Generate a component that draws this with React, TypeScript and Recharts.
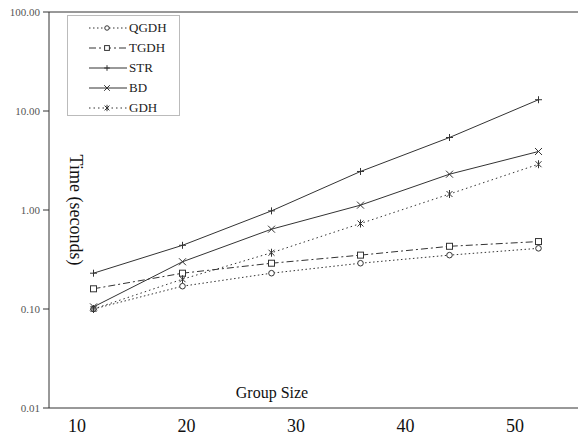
import React from "react";
import { Label, Line, LineChart, ReferenceLine, XAxis, YAxis } from "recharts";

// category slots along the x axis (6 measured group sizes)
const slots = [1, 2, 3, 4, 5, 6];
const groupSizeTicks = [10, 20, 30, 40, 50];
const timeTicks = [0.01, 0.1, 1, 10, 100];

const qgdh = [0.1, 0.17, 0.23, 0.29, 0.35, 0.41];
const tgdh = [0.16, 0.23, 0.29, 0.35, 0.43, 0.48];
const str = [0.23, 0.44, 0.98, 2.45, 5.4, 13.0];
const bd = [0.105, 0.3, 0.64, 1.12, 2.3, 3.9];
const gdh = [0.1, 0.2, 0.37, 0.73, 1.45, 2.9];

const data = slots.map((slot, i) => ({
  slot,
  QGDH: qgdh[i],
  TGDH: tgdh[i],
  STR: str[i],
  BD: bd[i],
  GDH: gdh[i],
}));

// the printed "Group Size" scale under the plot (no values, just anchors the axis)
const sizeRows = groupSizeTicks.map((size) => ({ size, none: null }));

const INK = "#333";
const FONT = '"Liberation Serif", "Times New Roman", serif';

type MarkerKind = "circle" | "square" | "plus" | "cross" | "star";

const series: { key: string; dash?: string; marker: MarkerKind }[] = [
  { key: "QGDH", dash: "1.5 2.5", marker: "circle" },
  { key: "TGDH", dash: "7 3 2 3", marker: "square" },
  { key: "STR", marker: "plus" },
  { key: "BD", marker: "cross" },
  { key: "GDH", dash: "1.5 3", marker: "star" },
];

function Marker({
  kind,
  cx,
  cy,
  s = 1,
}: {
  kind: MarkerKind;
  cx: number;
  cy: number;
  s?: number;
}) {
  if (cx == null || cy == null) return null;
  switch (kind) {
    case "circle":
      return <circle cx={cx} cy={cy} r={2.8 * s} fill="#fff" stroke={INK} />;
    case "square":
      return (
        <rect
          x={cx - 3 * s}
          y={cy - 3 * s}
          width={6 * s}
          height={6 * s}
          fill="#fff"
          stroke={INK}
        />
      );
    case "plus":
      return (
        <g stroke={INK}>
          <line x1={cx - 3.5 * s} x2={cx + 3.5 * s} y1={cy} y2={cy} />
          <line x1={cx} x2={cx} y1={cy - 3.5 * s} y2={cy + 3.5 * s} />
        </g>
      );
    case "cross":
      return (
        <g stroke={INK}>
          <line x1={cx - 3.5 * s} x2={cx + 3.5 * s} y1={cy - 3.5 * s} y2={cy + 3.5 * s} />
          <line x1={cx - 3.5 * s} x2={cx + 3.5 * s} y1={cy + 3.5 * s} y2={cy - 3.5 * s} />
        </g>
      );
    default:
      return (
        <g stroke={INK}>
          <line x1={cx - 3 * s} x2={cx + 3 * s} y1={cy - 3 * s} y2={cy + 3 * s} />
          <line x1={cx - 3 * s} x2={cx + 3 * s} y1={cy + 3 * s} y2={cy - 3 * s} />
          <line x1={cx} x2={cx} y1={cy - 4 * s} y2={cy + 4 * s} />
        </g>
      );
  }
}

function LegendBox() {
  return (
    <div
      style={{
        position: "absolute",
        left: 67,
        top: 15,
        width: 113,
        height: 101,
        boxSizing: "border-box",
        border: "1px solid #bbb",
        background: "#fff",
        paddingTop: 2,
      }}
    >
      {series.map((s) => (
        <div key={s.key} style={{ display: "flex", alignItems: "center", height: 20 }}>
          <svg width={40} height={10} style={{ marginLeft: 20 }}>
            <line x1={1} x2={39} y1={5} y2={5} stroke={INK} strokeDasharray={s.dash} />
            <Marker kind={s.marker} cx={19} cy={5} s={0.8} />
          </svg>
          <span style={{ fontFamily: FONT, fontSize: 13, color: "#222", marginLeft: 1 }}>
            {s.key}
          </span>
        </div>
      ))}
    </div>
  );
}

export default function App() {
  return (
    <div
      style={{
        position: "absolute",
        left: 0,
        top: 0,
        width: 578,
        height: 439,
        overflow: "hidden",
        background: "#fff",
      }}
    >
      <LineChart
        width={600}
        height={439}
        data={data}
        margin={{ top: 12, right: 17, left: 0, bottom: 0 }}
      >
        <XAxis
          xAxisId="cat"
          dataKey="slot"
          type="number"
          domain={[0.5, 6.5]}
          allowDataOverflow
          height={0}
          hide
        />
        <XAxis
          xAxisId="size"
          dataKey="size"
          type="number"
          domain={[7.44, 56.2]}
          ticks={groupSizeTicks}
          allowDataOverflow
          height={31}
          tickSize={0}
          tickMargin={11}
          axisLine={{ stroke: INK }}
          tickLine={false}
          tick={{ fontSize: 18, fontFamily: FONT, fill: "#111" }}
        >
          <Label
            content={(props: any) => {
              const vb = props.viewBox;
              return (
                <text
                  x={vb.x + vb.width / 2 - 44}
                  y={vb.y - 10}
                  textAnchor="middle"
                  fontFamily={FONT}
                  fontSize={16}
                  fill="#111"
                >
                  Group Size
                </text>
              );
            }}
          />
        </XAxis>
        <YAxis
          scale="log"
          domain={[0.01, 100]}
          ticks={timeTicks}
          allowDataOverflow
          width={49}
          tickSize={6}
          tickMargin={3}
          stroke={INK}
          tick={{ fontSize: 11, fontFamily: FONT, fill: "#555" }}
          tickFormatter={(v: number) => v.toFixed(2)}
        >
          <Label
            content={(props: any) => {
              const vb = props.viewBox;
              const x = vb.x + vb.width + 27;
              const y = vb.y + vb.height / 2;
              return (
                <text
                  x={x}
                  y={y}
                  transform={`rotate(90 ${x} ${y})`}
                  textAnchor="middle"
                  dominantBaseline="central"
                  fontFamily={FONT}
                  fontSize={18}
                  fill="#111"
                >
                  Time (seconds)
                </text>
              );
            }}
          />
        </YAxis>
        <ReferenceLine xAxisId="cat" y={100} stroke={INK} />
        <Line
          xAxisId="size"
          data={sizeRows}
          dataKey="none"
          stroke="none"
          dot={false}
          activeDot={false}
          legendType="none"
          isAnimationActive={false}
        />
        {series.map((s) => (
          <Line
            key={s.key}
            xAxisId="cat"
            type="linear"
            dataKey={s.key}
            stroke={INK}
            strokeWidth={1}
            strokeDasharray={s.dash}
            activeDot={false}
            isAnimationActive={false}
            dot={(p: any) => (
              <Marker key={`${s.key}-${p.index}`} kind={s.marker} cx={p.cx} cy={p.cy} />
            )}
          />
        ))}
      </LineChart>
      <LegendBox />
    </div>
  );
}
